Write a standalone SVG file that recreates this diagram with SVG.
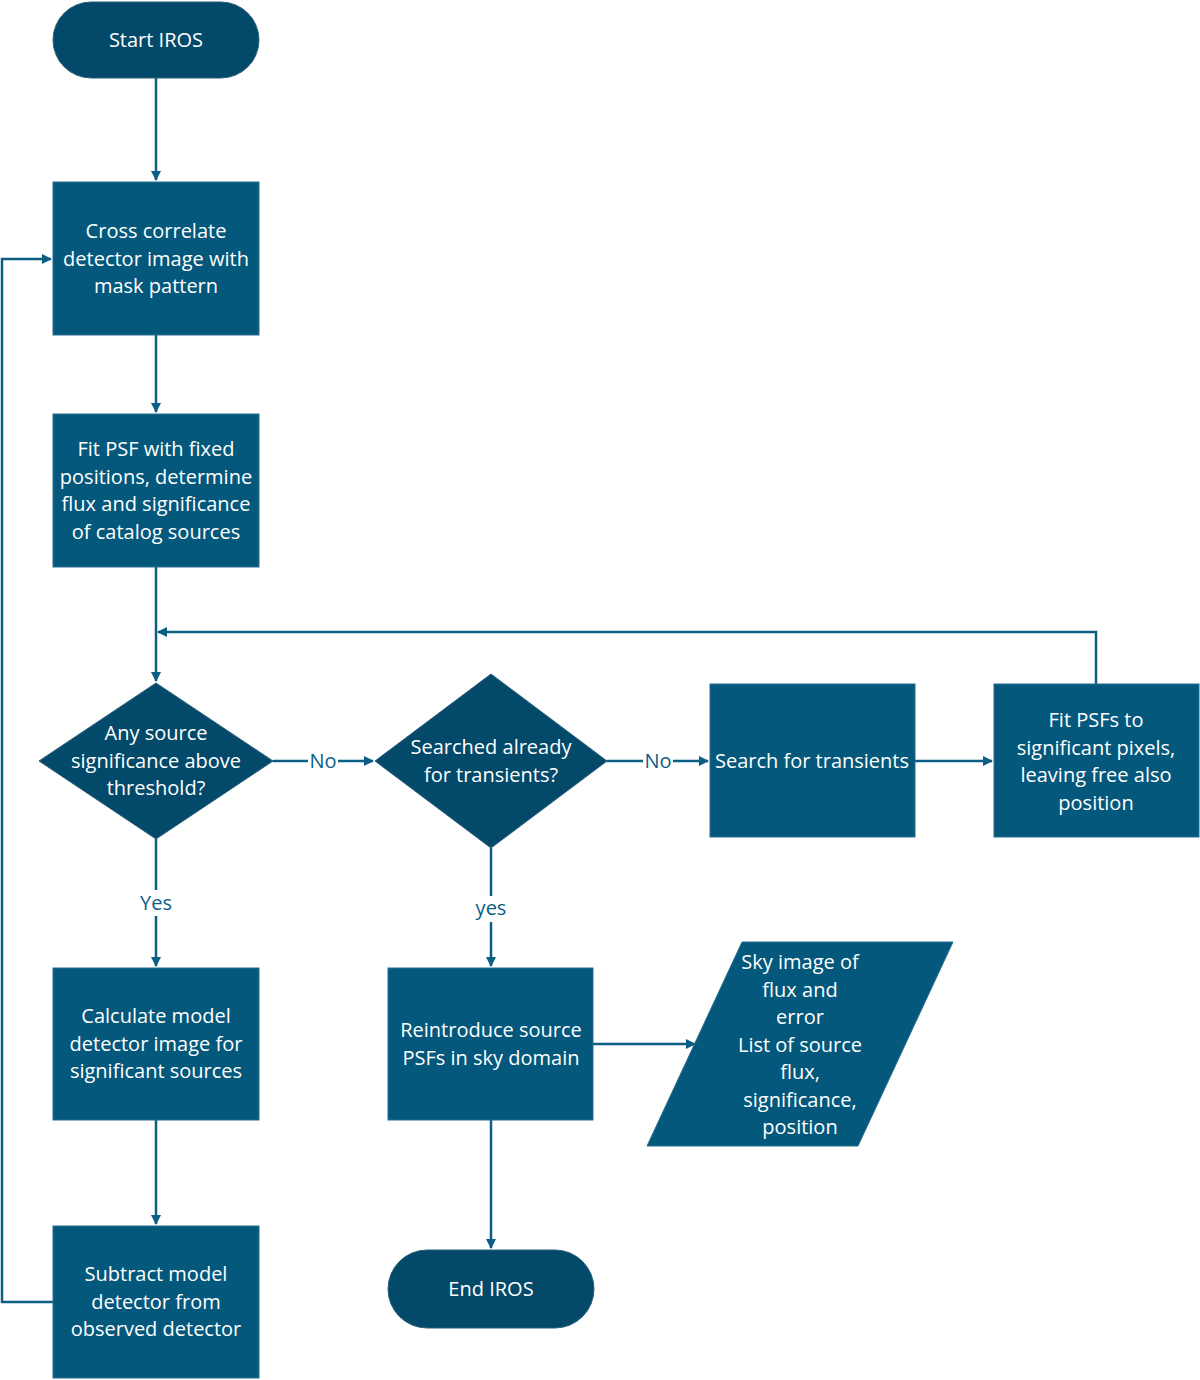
<svg xmlns="http://www.w3.org/2000/svg" width="1200" height="1380" viewBox="0 0 1200 1380">
<defs>
<marker id="ah" markerWidth="10" markerHeight="10" refX="9" refY="5" orient="auto" markerUnits="userSpaceOnUse" viewBox="0 0 10 10"><path d="M0,0 L10,5 L0,10 z" fill="#0c5e84"/></marker>
<style>
.box{fill:#03587c;stroke:#2a6f90;stroke-width:1}
.dark{fill:#034a6a;stroke:#2a5f7a;stroke-width:1}
text{font-family:"Open Sans","Noto Sans",sans-serif;font-size:20px;fill:#fff;text-anchor:middle}
.lbl{fill:#0c5e84}
.c{fill:none;stroke:#0c5e84;stroke-width:2.5}
.bg{fill:#fff}
</style>
</defs>
<rect width="1200" height="1380" fill="#fff"/>
<g id="connectors">
<path class="c" d="M156,78 V180" marker-end="url(#ah)"/>
<path class="c" d="M156,335 V412" marker-end="url(#ah)"/>
<path class="c" d="M156,567 V681" marker-end="url(#ah)"/>
<path class="c" d="M1096,684 V632 H158" marker-end="url(#ah)"/>
<path class="c" d="M273,761 H373" marker-end="url(#ah)"/>
<path class="c" d="M607,761 H708" marker-end="url(#ah)"/>
<path class="c" d="M915,761 H992" marker-end="url(#ah)"/>
<path class="c" d="M156,839 V966" marker-end="url(#ah)"/>
<path class="c" d="M491,848 V966" marker-end="url(#ah)"/>
<path class="c" d="M156,1120 V1224" marker-end="url(#ah)"/>
<path class="c" d="M53,1302 H2 V259 H51" marker-end="url(#ah)"/>
<path class="c" d="M593,1044 H695" marker-end="url(#ah)"/>
<path class="c" d="M491,1120 V1248" marker-end="url(#ah)"/>
<rect class="bg" x="308" y="749" width="30" height="24"/>
<text class="lbl" x="323" y="768">No</text>
<rect class="bg" x="643" y="749" width="30" height="24"/>
<text class="lbl" x="658" y="768">No</text>
<rect class="bg" x="136" y="890" width="40" height="26"/>
<text class="lbl" x="156" y="910">Yes</text>
<rect class="bg" x="472" y="896" width="38" height="26"/>
<text class="lbl" x="491" y="915">yes</text>
</g>
<g id="start"><rect class="dark" x="53" y="2" width="206" height="76" rx="38"/><text x="156" y="47">Start IROS</text></g>
<g id="cross"><rect class="box" x="53" y="182" width="206" height="153"/><text x="156" y="238">Cross correlate</text><text x="156" y="265.5">detector image with</text><text x="156" y="293">mask pattern</text></g>
<g id="fitpsf"><rect class="box" x="53" y="414" width="206" height="153"/><text x="156" y="456">Fit PSF with fixed</text><text x="156" y="483.5">positions, determine</text><text x="156" y="511">flux and significance</text><text x="156" y="538.5">of catalog sources</text></g>
<g id="anysource"><polygon class="dark" points="156,683 273,761 156,839 39,761"/><text x="156" y="740">Any source</text><text x="156" y="767.5">significance above</text><text x="156" y="795">threshold?</text></g>
<g id="searched"><polygon class="dark" points="491,674 607,761 491,848 375,761"/><text x="491" y="754">Searched already</text><text x="491" y="781.5">for transients?</text></g>
<g id="search"><rect class="box" x="710" y="684" width="205" height="153"/><text x="812" y="768">Search for transients</text></g>
<g id="fitpsfs"><rect class="box" x="994" y="684" width="205" height="153"/><text x="1096" y="727">Fit PSFs to</text><text x="1096" y="754.5">significant pixels,</text><text x="1096" y="782">leaving free also</text><text x="1096" y="809.5">position</text></g>
<g id="calc"><rect class="box" x="53" y="968" width="206" height="152"/><text x="156" y="1023">Calculate model</text><text x="156" y="1050.5">detector image for</text><text x="156" y="1078">significant sources</text></g>
<g id="subtract"><rect class="box" x="53" y="1226" width="206" height="152"/><text x="156" y="1281">Subtract model</text><text x="156" y="1308.5">detector from</text><text x="156" y="1336">observed detector</text></g>
<g id="reintro"><rect class="box" x="388" y="968" width="205" height="152"/><text x="491" y="1037">Reintroduce source</text><text x="491" y="1064.5">PSFs in sky domain</text></g>
<g id="end"><rect class="dark" x="388" y="1250" width="206" height="78" rx="39"/><text x="491" y="1296">End IROS</text></g>
<g id="output"><polygon class="box" points="742,942 953,942 858,1146 647,1146"/><text x="800" y="969">Sky image of</text><text x="800" y="996.5">flux and</text><text x="800" y="1024">error</text><text x="800" y="1051.5">List of source</text><text x="800" y="1079">flux,</text><text x="800" y="1106.5">significance,</text><text x="800" y="1134">position</text></g>
</svg>
